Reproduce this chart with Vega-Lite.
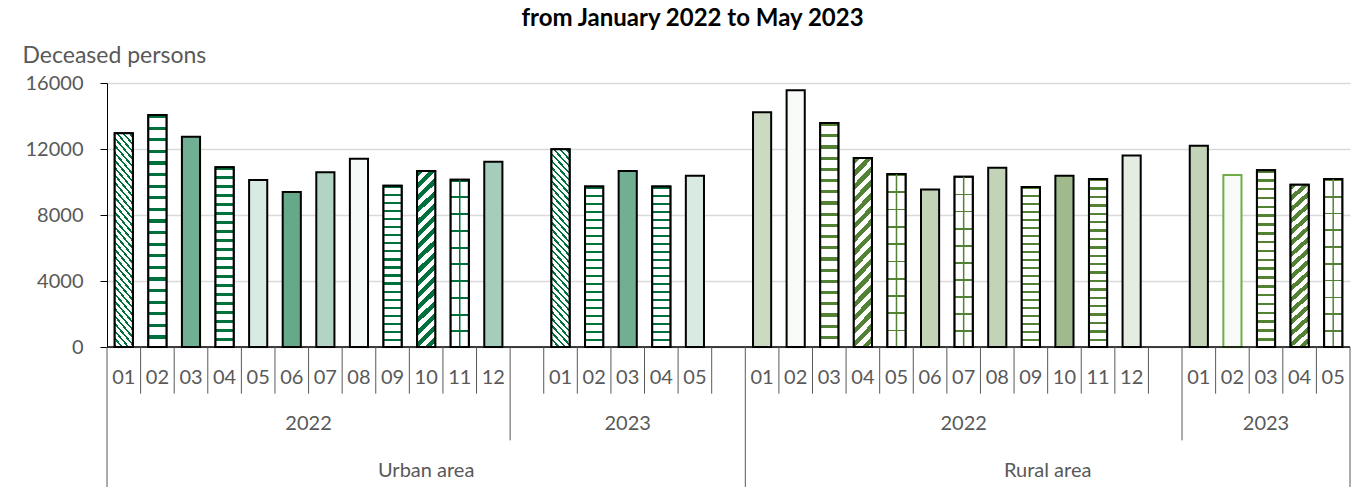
{
"$schema": "https://vega.github.io/schema/vega-lite/v6.json",
"width": 1243,
"height": 404,
"autosize": "none",
"padding": {"left": 107, "top": 83, "right": 10, "bottom": 13},
"background": "white",
"config": {"view": {"stroke": null}, "font": "Lato"},
"title": {"text": "from January 2022 to May 2023", "fontSize": 24, "fontWeight": "bold", "color": "#000000", "font": "Lato", "anchor": "middle", "frame": "group", "offset": 30, "baseline": "alphabetic", "dx": -36, "dy": 36},
"datasets": {
"deaths": [
{"area":"Urban area","year":"2022","month":"01","slot":"U22-01","deaths":12950},
{"area":"Urban area","year":"2022","month":"02","slot":"U22-02","deaths":14060},
{"area":"Urban area","year":"2022","month":"03","slot":"U22-03","deaths":12750},
{"area":"Urban area","year":"2022","month":"04","slot":"U22-04","deaths":10890},
{"area":"Urban area","year":"2022","month":"05","slot":"U22-05","deaths":10120},
{"area":"Urban area","year":"2022","month":"06","slot":"U22-06","deaths":9390},
{"area":"Urban area","year":"2022","month":"07","slot":"U22-07","deaths":10590},
{"area":"Urban area","year":"2022","month":"08","slot":"U22-08","deaths":11410},
{"area":"Urban area","year":"2022","month":"09","slot":"U22-09","deaths":9780},
{"area":"Urban area","year":"2022","month":"10","slot":"U22-10","deaths":10670},
{"area":"Urban area","year":"2022","month":"11","slot":"U22-11","deaths":10140},
{"area":"Urban area","year":"2022","month":"12","slot":"U22-12","deaths":11230},
{"area":"Urban area","year":"2023","month":"01","slot":"U23-01","deaths":11980},
{"area":"Urban area","year":"2023","month":"02","slot":"U23-02","deaths":9720},
{"area":"Urban area","year":"2023","month":"03","slot":"U23-03","deaths":10670},
{"area":"Urban area","year":"2023","month":"04","slot":"U23-04","deaths":9720},
{"area":"Urban area","year":"2023","month":"05","slot":"U23-05","deaths":10380},
{"area":"Rural area","year":"2022","month":"01","slot":"R22-01","deaths":14220},
{"area":"Rural area","year":"2022","month":"02","slot":"R22-02","deaths":15560},
{"area":"Rural area","year":"2022","month":"03","slot":"R22-03","deaths":13570},
{"area":"Rural area","year":"2022","month":"04","slot":"R22-04","deaths":11450},
{"area":"Rural area","year":"2022","month":"05","slot":"R22-05","deaths":10480},
{"area":"Rural area","year":"2022","month":"06","slot":"R22-06","deaths":9540},
{"area":"Rural area","year":"2022","month":"07","slot":"R22-07","deaths":10320},
{"area":"Rural area","year":"2022","month":"08","slot":"R22-08","deaths":10870},
{"area":"Rural area","year":"2022","month":"09","slot":"R22-09","deaths":9700},
{"area":"Rural area","year":"2022","month":"10","slot":"R22-10","deaths":10380},
{"area":"Rural area","year":"2022","month":"11","slot":"R22-11","deaths":10180},
{"area":"Rural area","year":"2022","month":"12","slot":"R22-12","deaths":11600},
{"area":"Rural area","year":"2023","month":"01","slot":"R23-01","deaths":12200},
{"area":"Rural area","year":"2023","month":"02","slot":"R23-02","deaths":10420},
{"area":"Rural area","year":"2023","month":"03","slot":"R23-03","deaths":10710},
{"area":"Rural area","year":"2023","month":"04","slot":"R23-04","deaths":9840},
{"area":"Rural area","year":"2023","month":"05","slot":"R23-05","deaths":10180}
],
"separators": [
{"slot":"U22-01","level":"area"},{"slot":"U22-02","level":"month"},{"slot":"U22-03","level":"month"},{"slot":"U22-04","level":"month"},{"slot":"U22-05","level":"month"},{"slot":"U22-06","level":"month"},{"slot":"U22-07","level":"month"},{"slot":"U22-08","level":"month"},{"slot":"U22-09","level":"month"},{"slot":"U22-10","level":"month"},{"slot":"U22-11","level":"month"},{"slot":"U22-12","level":"month"},
{"slot":"U-gap1","level":"year"},{"slot":"U23-01","level":"month"},{"slot":"U23-02","level":"month"},{"slot":"U23-03","level":"month"},{"slot":"U23-04","level":"month"},{"slot":"U23-05","level":"month"},{"slot":"U-gap2","level":"month"},
{"slot":"R22-01","level":"area"},{"slot":"R22-02","level":"month"},{"slot":"R22-03","level":"month"},{"slot":"R22-04","level":"month"},{"slot":"R22-05","level":"month"},{"slot":"R22-06","level":"month"},{"slot":"R22-07","level":"month"},{"slot":"R22-08","level":"month"},{"slot":"R22-09","level":"month"},{"slot":"R22-10","level":"month"},{"slot":"R22-11","level":"month"},{"slot":"R22-12","level":"month"},
{"slot":"R-gap1","level":"month"},{"slot":"R23-01","level":"year"},{"slot":"R23-02","level":"month"},{"slot":"R23-03","level":"month"},{"slot":"R23-04","level":"month"},{"slot":"R23-05","level":"month"}
]
},
"layer": [
{
"data": {"name": "deaths"},
"mark": {"type": "bar", "width": {"band": 0.54}, "strokeWidth": 2},
"encoding": {
"x": {"field": "slot", "type": "ordinal", "scale": {"type": "band", "domain": ["U22-01","U22-02","U22-03","U22-04","U22-05","U22-06","U22-07","U22-08","U22-09","U22-10","U22-11","U22-12","U-gap1","U23-01","U23-02","U23-03","U23-04","U23-05","U-gap2","R22-01","R22-02","R22-03","R22-04","R22-05","R22-06","R22-07","R22-08","R22-09","R22-10","R22-11","R22-12","R-gap1","R23-01","R23-02","R23-03","R23-04","R23-05"], "paddingInner": 0, "paddingOuter": 0}, "axis": null},
"y": {"field": "deaths", "type": "quantitative", "scale": {"domain": [0, 16000], "range": [264, 0]},
"axis": {"values": [0, 4000, 8000, 12000, 16000], "format": "d", "title": "Deceased persons", "titleAngle": 0, "titleAlign": "left", "titleBaseline": "alphabetic", "titleX": -85, "titleY": -21, "titleFontSize": 23, "titleFontWeight": "normal", "titleColor": "#595959", "titleFont": "Lato", "labelFont": "Lato", "labelFontSize": 20, "labelColor": "#595959", "labelPadding": 17, "tickColor": "#000000", "tickSize": 7, "tickWidth": 1, "domainColor": "#000000", "domainWidth": 1, "grid": true, "gridColor": "#d9d9d9", "gridWidth": 1.5}},
"fill": {"field": "slot", "type": "nominal", "legend": null, "scale": {
"domain": ["U22-01","U22-02","U22-03","U22-04","U22-05","U22-06","U22-07","U22-08","U22-09","U22-10","U22-11","U22-12","U23-01","U23-02","U23-03","U23-04","U23-05","R22-01","R22-02","R22-03","R22-04","R22-05","R22-06","R22-07","R22-08","R22-09","R22-10","R22-11","R22-12","R23-01","R23-02","R23-03","R23-04","R23-05"],
"range": ["#ffffff","#ffffff","#70AF92","#ffffff","#D9EAE2","#66A98A","#B3D4C5","#F5F9F7","#ffffff","#ffffff","#ffffff","#A6CDBB","#ffffff","#ffffff","#70AF92","#ffffff","#D9EAE2","#CCDAC2","#F8FAF7","#ffffff","#ffffff","#ffffff","#C3D3B8","#ffffff","#C3D3B8","#ffffff","#A0BA8E","#ffffff","#E5ECE1","#C3D3B8","#F8FAF7","#ffffff","#ffffff","#ffffff"]}},
"stroke": {"condition": {"test": "datum.slot === 'R23-02'", "value": "#70AD47"}, "value": "#000000"}
}
},
{
"data": {"name": "deaths"},
"transform": [{"filter": {"field": "slot", "oneOf": ["U22-02","U22-04","U22-09","U23-02","U23-04"]}}],
"mark": {"type": "bar", "width": {"band": 0.54}, "stroke": "#000000", "strokeWidth": 2,
"fill": {"gradient": "linear", "x1": 0, "y1": 0, "x2": 0, "y2": 1, "stops": [{"offset":0,"color":"#00703C"},{"offset":0.014,"color":"#00703C"},{"offset":0.014,"color":"#ffffff"},{"offset":0.05,"color":"#ffffff"},{"offset":0.05,"color":"#00703C"},{"offset":0.064,"color":"#00703C"},{"offset":0.064,"color":"#ffffff"},{"offset":0.1,"color":"#ffffff"},{"offset":0.1,"color":"#00703C"},{"offset":0.114,"color":"#00703C"},{"offset":0.114,"color":"#ffffff"},{"offset":0.15,"color":"#ffffff"},{"offset":0.15,"color":"#00703C"},{"offset":0.164,"color":"#00703C"},{"offset":0.164,"color":"#ffffff"},{"offset":0.2,"color":"#ffffff"},{"offset":0.2,"color":"#00703C"},{"offset":0.214,"color":"#00703C"},{"offset":0.214,"color":"#ffffff"},{"offset":0.25,"color":"#ffffff"},{"offset":0.25,"color":"#00703C"},{"offset":0.264,"color":"#00703C"},{"offset":0.264,"color":"#ffffff"},{"offset":0.3,"color":"#ffffff"},{"offset":0.3,"color":"#00703C"},{"offset":0.314,"color":"#00703C"},{"offset":0.314,"color":"#ffffff"},{"offset":0.35,"color":"#ffffff"},{"offset":0.35,"color":"#00703C"},{"offset":0.364,"color":"#00703C"},{"offset":0.364,"color":"#ffffff"},{"offset":0.4,"color":"#ffffff"},{"offset":0.4,"color":"#00703C"},{"offset":0.414,"color":"#00703C"},{"offset":0.414,"color":"#ffffff"},{"offset":0.45,"color":"#ffffff"},{"offset":0.45,"color":"#00703C"},{"offset":0.464,"color":"#00703C"},{"offset":0.464,"color":"#ffffff"},{"offset":0.5,"color":"#ffffff"},{"offset":0.5,"color":"#00703C"},{"offset":0.514,"color":"#00703C"},{"offset":0.514,"color":"#ffffff"},{"offset":0.55,"color":"#ffffff"},{"offset":0.55,"color":"#00703C"},{"offset":0.564,"color":"#00703C"},{"offset":0.564,"color":"#ffffff"},{"offset":0.6,"color":"#ffffff"},{"offset":0.6,"color":"#00703C"},{"offset":0.614,"color":"#00703C"},{"offset":0.614,"color":"#ffffff"},{"offset":0.65,"color":"#ffffff"},{"offset":0.65,"color":"#00703C"},{"offset":0.664,"color":"#00703C"},{"offset":0.664,"color":"#ffffff"},{"offset":0.7,"color":"#ffffff"},{"offset":0.7,"color":"#00703C"},{"offset":0.714,"color":"#00703C"},{"offset":0.714,"color":"#ffffff"},{"offset":0.75,"color":"#ffffff"},{"offset":0.75,"color":"#00703C"},{"offset":0.764,"color":"#00703C"},{"offset":0.764,"color":"#ffffff"},{"offset":0.8,"color":"#ffffff"},{"offset":0.8,"color":"#00703C"},{"offset":0.814,"color":"#00703C"},{"offset":0.814,"color":"#ffffff"},{"offset":0.85,"color":"#ffffff"},{"offset":0.85,"color":"#00703C"},{"offset":0.864,"color":"#00703C"},{"offset":0.864,"color":"#ffffff"},{"offset":0.9,"color":"#ffffff"},{"offset":0.9,"color":"#00703C"},{"offset":0.914,"color":"#00703C"},{"offset":0.914,"color":"#ffffff"},{"offset":0.95,"color":"#ffffff"},{"offset":0.95,"color":"#00703C"},{"offset":0.964,"color":"#00703C"},{"offset":0.964,"color":"#ffffff"},{"offset":1,"color":"#ffffff"}]}},
"encoding": {
"x": {"field": "slot", "type": "ordinal", "scale": {"type": "band", "domain": ["U22-01","U22-02","U22-03","U22-04","U22-05","U22-06","U22-07","U22-08","U22-09","U22-10","U22-11","U22-12","U-gap1","U23-01","U23-02","U23-03","U23-04","U23-05","U-gap2","R22-01","R22-02","R22-03","R22-04","R22-05","R22-06","R22-07","R22-08","R22-09","R22-10","R22-11","R22-12","R-gap1","R23-01","R23-02","R23-03","R23-04","R23-05"], "paddingInner": 0, "paddingOuter": 0}, "axis": null},
"y": {"field": "deaths", "type": "quantitative", "scale": {"domain": [0, 16000], "range": [264, 0]}, "axis": null}
}
},
{
"data": {"name": "deaths"},
"transform": [{"filter": {"field": "slot", "oneOf": ["R22-03","R22-09","R22-11","R23-03"]}}],
"mark": {"type": "bar", "width": {"band": 0.54}, "stroke": "#000000", "strokeWidth": 2,
"fill": {"gradient": "linear", "x1": 0, "y1": 0, "x2": 0, "y2": 1, "stops": [{"offset":0,"color":"#548235"},{"offset":0.014,"color":"#548235"},{"offset":0.014,"color":"#ffffff"},{"offset":0.05,"color":"#ffffff"},{"offset":0.05,"color":"#548235"},{"offset":0.064,"color":"#548235"},{"offset":0.064,"color":"#ffffff"},{"offset":0.1,"color":"#ffffff"},{"offset":0.1,"color":"#548235"},{"offset":0.114,"color":"#548235"},{"offset":0.114,"color":"#ffffff"},{"offset":0.15,"color":"#ffffff"},{"offset":0.15,"color":"#548235"},{"offset":0.164,"color":"#548235"},{"offset":0.164,"color":"#ffffff"},{"offset":0.2,"color":"#ffffff"},{"offset":0.2,"color":"#548235"},{"offset":0.214,"color":"#548235"},{"offset":0.214,"color":"#ffffff"},{"offset":0.25,"color":"#ffffff"},{"offset":0.25,"color":"#548235"},{"offset":0.264,"color":"#548235"},{"offset":0.264,"color":"#ffffff"},{"offset":0.3,"color":"#ffffff"},{"offset":0.3,"color":"#548235"},{"offset":0.314,"color":"#548235"},{"offset":0.314,"color":"#ffffff"},{"offset":0.35,"color":"#ffffff"},{"offset":0.35,"color":"#548235"},{"offset":0.364,"color":"#548235"},{"offset":0.364,"color":"#ffffff"},{"offset":0.4,"color":"#ffffff"},{"offset":0.4,"color":"#548235"},{"offset":0.414,"color":"#548235"},{"offset":0.414,"color":"#ffffff"},{"offset":0.45,"color":"#ffffff"},{"offset":0.45,"color":"#548235"},{"offset":0.464,"color":"#548235"},{"offset":0.464,"color":"#ffffff"},{"offset":0.5,"color":"#ffffff"},{"offset":0.5,"color":"#548235"},{"offset":0.514,"color":"#548235"},{"offset":0.514,"color":"#ffffff"},{"offset":0.55,"color":"#ffffff"},{"offset":0.55,"color":"#548235"},{"offset":0.564,"color":"#548235"},{"offset":0.564,"color":"#ffffff"},{"offset":0.6,"color":"#ffffff"},{"offset":0.6,"color":"#548235"},{"offset":0.614,"color":"#548235"},{"offset":0.614,"color":"#ffffff"},{"offset":0.65,"color":"#ffffff"},{"offset":0.65,"color":"#548235"},{"offset":0.664,"color":"#548235"},{"offset":0.664,"color":"#ffffff"},{"offset":0.7,"color":"#ffffff"},{"offset":0.7,"color":"#548235"},{"offset":0.714,"color":"#548235"},{"offset":0.714,"color":"#ffffff"},{"offset":0.75,"color":"#ffffff"},{"offset":0.75,"color":"#548235"},{"offset":0.764,"color":"#548235"},{"offset":0.764,"color":"#ffffff"},{"offset":0.8,"color":"#ffffff"},{"offset":0.8,"color":"#548235"},{"offset":0.814,"color":"#548235"},{"offset":0.814,"color":"#ffffff"},{"offset":0.85,"color":"#ffffff"},{"offset":0.85,"color":"#548235"},{"offset":0.864,"color":"#548235"},{"offset":0.864,"color":"#ffffff"},{"offset":0.9,"color":"#ffffff"},{"offset":0.9,"color":"#548235"},{"offset":0.914,"color":"#548235"},{"offset":0.914,"color":"#ffffff"},{"offset":0.95,"color":"#ffffff"},{"offset":0.95,"color":"#548235"},{"offset":0.964,"color":"#548235"},{"offset":0.964,"color":"#ffffff"},{"offset":1,"color":"#ffffff"}]}},
"encoding": {
"x": {"field": "slot", "type": "ordinal", "scale": {"type": "band", "domain": ["U22-01","U22-02","U22-03","U22-04","U22-05","U22-06","U22-07","U22-08","U22-09","U22-10","U22-11","U22-12","U-gap1","U23-01","U23-02","U23-03","U23-04","U23-05","U-gap2","R22-01","R22-02","R22-03","R22-04","R22-05","R22-06","R22-07","R22-08","R22-09","R22-10","R22-11","R22-12","R-gap1","R23-01","R23-02","R23-03","R23-04","R23-05"], "paddingInner": 0, "paddingOuter": 0}, "axis": null},
"y": {"field": "deaths", "type": "quantitative", "scale": {"domain": [0, 16000], "range": [264, 0]}, "axis": null}
}
},
{
"data": {"name": "deaths"},
"transform": [{"filter": {"field": "slot", "oneOf": ["U22-11"]}}],
"mark": {"type": "bar", "width": {"band": 0.54}, "stroke": "#000000", "strokeWidth": 2,
"fill": {"gradient": "linear", "x1": 0, "y1": 0, "x2": 0, "y2": 1, "stops": [{"offset":0,"color":"#00703C"},{"offset":0.012,"color":"#00703C"},{"offset":0.012,"color":"#ffffff"},{"offset":0.1,"color":"#ffffff"},{"offset":0.1,"color":"#00703C"},{"offset":0.112,"color":"#00703C"},{"offset":0.112,"color":"#ffffff"},{"offset":0.2,"color":"#ffffff"},{"offset":0.2,"color":"#00703C"},{"offset":0.212,"color":"#00703C"},{"offset":0.212,"color":"#ffffff"},{"offset":0.3,"color":"#ffffff"},{"offset":0.3,"color":"#00703C"},{"offset":0.312,"color":"#00703C"},{"offset":0.312,"color":"#ffffff"},{"offset":0.4,"color":"#ffffff"},{"offset":0.4,"color":"#00703C"},{"offset":0.412,"color":"#00703C"},{"offset":0.412,"color":"#ffffff"},{"offset":0.5,"color":"#ffffff"},{"offset":0.5,"color":"#00703C"},{"offset":0.512,"color":"#00703C"},{"offset":0.512,"color":"#ffffff"},{"offset":0.6,"color":"#ffffff"},{"offset":0.6,"color":"#00703C"},{"offset":0.612,"color":"#00703C"},{"offset":0.612,"color":"#ffffff"},{"offset":0.7,"color":"#ffffff"},{"offset":0.7,"color":"#00703C"},{"offset":0.712,"color":"#00703C"},{"offset":0.712,"color":"#ffffff"},{"offset":0.8,"color":"#ffffff"},{"offset":0.8,"color":"#00703C"},{"offset":0.812,"color":"#00703C"},{"offset":0.812,"color":"#ffffff"},{"offset":0.9,"color":"#ffffff"},{"offset":0.9,"color":"#00703C"},{"offset":0.912,"color":"#00703C"},{"offset":0.912,"color":"#ffffff"},{"offset":1,"color":"#ffffff"}]}},
"encoding": {
"x": {"field": "slot", "type": "ordinal", "scale": {"type": "band", "domain": ["U22-01","U22-02","U22-03","U22-04","U22-05","U22-06","U22-07","U22-08","U22-09","U22-10","U22-11","U22-12","U-gap1","U23-01","U23-02","U23-03","U23-04","U23-05","U-gap2","R22-01","R22-02","R22-03","R22-04","R22-05","R22-06","R22-07","R22-08","R22-09","R22-10","R22-11","R22-12","R-gap1","R23-01","R23-02","R23-03","R23-04","R23-05"], "paddingInner": 0, "paddingOuter": 0}, "axis": null},
"y": {"field": "deaths", "type": "quantitative", "scale": {"domain": [0, 16000], "range": [264, 0]}, "axis": null}
}
},
{
"data": {"name": "deaths"},
"transform": [{"filter": {"field": "slot", "oneOf": ["R22-05","R22-07","R23-05"]}}],
"mark": {"type": "bar", "width": {"band": 0.54}, "stroke": "#000000", "strokeWidth": 2,
"fill": {"gradient": "linear", "x1": 0, "y1": 0, "x2": 0, "y2": 1, "stops": [{"offset":0,"color":"#548235"},{"offset":0.01,"color":"#548235"},{"offset":0.01,"color":"#ffffff"},{"offset":0.1,"color":"#ffffff"},{"offset":0.1,"color":"#548235"},{"offset":0.11,"color":"#548235"},{"offset":0.11,"color":"#ffffff"},{"offset":0.2,"color":"#ffffff"},{"offset":0.2,"color":"#548235"},{"offset":0.21,"color":"#548235"},{"offset":0.21,"color":"#ffffff"},{"offset":0.3,"color":"#ffffff"},{"offset":0.3,"color":"#548235"},{"offset":0.31,"color":"#548235"},{"offset":0.31,"color":"#ffffff"},{"offset":0.4,"color":"#ffffff"},{"offset":0.4,"color":"#548235"},{"offset":0.41,"color":"#548235"},{"offset":0.41,"color":"#ffffff"},{"offset":0.5,"color":"#ffffff"},{"offset":0.5,"color":"#548235"},{"offset":0.51,"color":"#548235"},{"offset":0.51,"color":"#ffffff"},{"offset":0.6,"color":"#ffffff"},{"offset":0.6,"color":"#548235"},{"offset":0.61,"color":"#548235"},{"offset":0.61,"color":"#ffffff"},{"offset":0.7,"color":"#ffffff"},{"offset":0.7,"color":"#548235"},{"offset":0.71,"color":"#548235"},{"offset":0.71,"color":"#ffffff"},{"offset":0.8,"color":"#ffffff"},{"offset":0.8,"color":"#548235"},{"offset":0.81,"color":"#548235"},{"offset":0.81,"color":"#ffffff"},{"offset":0.9,"color":"#ffffff"},{"offset":0.9,"color":"#548235"},{"offset":0.91,"color":"#548235"},{"offset":0.91,"color":"#ffffff"},{"offset":1,"color":"#ffffff"}]}},
"encoding": {
"x": {"field": "slot", "type": "ordinal", "scale": {"type": "band", "domain": ["U22-01","U22-02","U22-03","U22-04","U22-05","U22-06","U22-07","U22-08","U22-09","U22-10","U22-11","U22-12","U-gap1","U23-01","U23-02","U23-03","U23-04","U23-05","U-gap2","R22-01","R22-02","R22-03","R22-04","R22-05","R22-06","R22-07","R22-08","R22-09","R22-10","R22-11","R22-12","R-gap1","R23-01","R23-02","R23-03","R23-04","R23-05"], "paddingInner": 0, "paddingOuter": 0}, "axis": null},
"y": {"field": "deaths", "type": "quantitative", "scale": {"domain": [0, 16000], "range": [264, 0]}, "axis": null}
}
},
{
"data": {"name": "deaths"},
"transform": [{"filter": {"field": "slot", "oneOf": ["U22-10"]}}],
"mark": {"type": "bar", "width": {"band": 0.54}, "stroke": "#000000", "strokeWidth": 2,
"fill": {"gradient": "linear", "x1": 0, "y1": 0, "x2": 0.11, "y2": 1.1, "stops": [{"offset":0,"color":"#00703C"},{"offset":0.03125,"color":"#00703C"},{"offset":0.03125,"color":"#ffffff"},{"offset":0.0625,"color":"#ffffff"},{"offset":0.0625,"color":"#00703C"},{"offset":0.09375,"color":"#00703C"},{"offset":0.09375,"color":"#ffffff"},{"offset":0.125,"color":"#ffffff"},{"offset":0.125,"color":"#00703C"},{"offset":0.15625,"color":"#00703C"},{"offset":0.15625,"color":"#ffffff"},{"offset":0.1875,"color":"#ffffff"},{"offset":0.1875,"color":"#00703C"},{"offset":0.21875,"color":"#00703C"},{"offset":0.21875,"color":"#ffffff"},{"offset":0.25,"color":"#ffffff"},{"offset":0.25,"color":"#00703C"},{"offset":0.28125,"color":"#00703C"},{"offset":0.28125,"color":"#ffffff"},{"offset":0.3125,"color":"#ffffff"},{"offset":0.3125,"color":"#00703C"},{"offset":0.34375,"color":"#00703C"},{"offset":0.34375,"color":"#ffffff"},{"offset":0.375,"color":"#ffffff"},{"offset":0.375,"color":"#00703C"},{"offset":0.40625,"color":"#00703C"},{"offset":0.40625,"color":"#ffffff"},{"offset":0.4375,"color":"#ffffff"},{"offset":0.4375,"color":"#00703C"},{"offset":0.46875,"color":"#00703C"},{"offset":0.46875,"color":"#ffffff"},{"offset":0.5,"color":"#ffffff"},{"offset":0.5,"color":"#00703C"},{"offset":0.53125,"color":"#00703C"},{"offset":0.53125,"color":"#ffffff"},{"offset":0.5625,"color":"#ffffff"},{"offset":0.5625,"color":"#00703C"},{"offset":0.59375,"color":"#00703C"},{"offset":0.59375,"color":"#ffffff"},{"offset":0.625,"color":"#ffffff"},{"offset":0.625,"color":"#00703C"},{"offset":0.65625,"color":"#00703C"},{"offset":0.65625,"color":"#ffffff"},{"offset":0.6875,"color":"#ffffff"},{"offset":0.6875,"color":"#00703C"},{"offset":0.71875,"color":"#00703C"},{"offset":0.71875,"color":"#ffffff"},{"offset":0.75,"color":"#ffffff"},{"offset":0.75,"color":"#00703C"},{"offset":0.78125,"color":"#00703C"},{"offset":0.78125,"color":"#ffffff"},{"offset":0.8125,"color":"#ffffff"},{"offset":0.8125,"color":"#00703C"},{"offset":0.84375,"color":"#00703C"},{"offset":0.84375,"color":"#ffffff"},{"offset":0.875,"color":"#ffffff"},{"offset":0.875,"color":"#00703C"},{"offset":0.90625,"color":"#00703C"},{"offset":0.90625,"color":"#ffffff"},{"offset":0.9375,"color":"#ffffff"},{"offset":0.9375,"color":"#00703C"},{"offset":0.96875,"color":"#00703C"},{"offset":0.96875,"color":"#ffffff"},{"offset":1,"color":"#ffffff"}]}},
"encoding": {
"x": {"field": "slot", "type": "ordinal", "scale": {"type": "band", "domain": ["U22-01","U22-02","U22-03","U22-04","U22-05","U22-06","U22-07","U22-08","U22-09","U22-10","U22-11","U22-12","U-gap1","U23-01","U23-02","U23-03","U23-04","U23-05","U-gap2","R22-01","R22-02","R22-03","R22-04","R22-05","R22-06","R22-07","R22-08","R22-09","R22-10","R22-11","R22-12","R-gap1","R23-01","R23-02","R23-03","R23-04","R23-05"], "paddingInner": 0, "paddingOuter": 0}, "axis": null},
"y": {"field": "deaths", "type": "quantitative", "scale": {"domain": [0, 16000], "range": [264, 0]}, "axis": null}
}
},
{
"data": {"name": "deaths"},
"transform": [{"filter": {"field": "slot", "oneOf": ["R22-04","R23-04"]}}],
"mark": {"type": "bar", "width": {"band": 0.54}, "stroke": "#000000", "strokeWidth": 2,
"fill": {"gradient": "linear", "x1": 0, "y1": 0, "x2": 0.11, "y2": 1.1, "stops": [{"offset":0,"color":"#548235"},{"offset":0.03125,"color":"#548235"},{"offset":0.03125,"color":"#ffffff"},{"offset":0.0625,"color":"#ffffff"},{"offset":0.0625,"color":"#548235"},{"offset":0.09375,"color":"#548235"},{"offset":0.09375,"color":"#ffffff"},{"offset":0.125,"color":"#ffffff"},{"offset":0.125,"color":"#548235"},{"offset":0.15625,"color":"#548235"},{"offset":0.15625,"color":"#ffffff"},{"offset":0.1875,"color":"#ffffff"},{"offset":0.1875,"color":"#548235"},{"offset":0.21875,"color":"#548235"},{"offset":0.21875,"color":"#ffffff"},{"offset":0.25,"color":"#ffffff"},{"offset":0.25,"color":"#548235"},{"offset":0.28125,"color":"#548235"},{"offset":0.28125,"color":"#ffffff"},{"offset":0.3125,"color":"#ffffff"},{"offset":0.3125,"color":"#548235"},{"offset":0.34375,"color":"#548235"},{"offset":0.34375,"color":"#ffffff"},{"offset":0.375,"color":"#ffffff"},{"offset":0.375,"color":"#548235"},{"offset":0.40625,"color":"#548235"},{"offset":0.40625,"color":"#ffffff"},{"offset":0.4375,"color":"#ffffff"},{"offset":0.4375,"color":"#548235"},{"offset":0.46875,"color":"#548235"},{"offset":0.46875,"color":"#ffffff"},{"offset":0.5,"color":"#ffffff"},{"offset":0.5,"color":"#548235"},{"offset":0.53125,"color":"#548235"},{"offset":0.53125,"color":"#ffffff"},{"offset":0.5625,"color":"#ffffff"},{"offset":0.5625,"color":"#548235"},{"offset":0.59375,"color":"#548235"},{"offset":0.59375,"color":"#ffffff"},{"offset":0.625,"color":"#ffffff"},{"offset":0.625,"color":"#548235"},{"offset":0.65625,"color":"#548235"},{"offset":0.65625,"color":"#ffffff"},{"offset":0.6875,"color":"#ffffff"},{"offset":0.6875,"color":"#548235"},{"offset":0.71875,"color":"#548235"},{"offset":0.71875,"color":"#ffffff"},{"offset":0.75,"color":"#ffffff"},{"offset":0.75,"color":"#548235"},{"offset":0.78125,"color":"#548235"},{"offset":0.78125,"color":"#ffffff"},{"offset":0.8125,"color":"#ffffff"},{"offset":0.8125,"color":"#548235"},{"offset":0.84375,"color":"#548235"},{"offset":0.84375,"color":"#ffffff"},{"offset":0.875,"color":"#ffffff"},{"offset":0.875,"color":"#548235"},{"offset":0.90625,"color":"#548235"},{"offset":0.90625,"color":"#ffffff"},{"offset":0.9375,"color":"#ffffff"},{"offset":0.9375,"color":"#548235"},{"offset":0.96875,"color":"#548235"},{"offset":0.96875,"color":"#ffffff"},{"offset":1,"color":"#ffffff"}]}},
"encoding": {
"x": {"field": "slot", "type": "ordinal", "scale": {"type": "band", "domain": ["U22-01","U22-02","U22-03","U22-04","U22-05","U22-06","U22-07","U22-08","U22-09","U22-10","U22-11","U22-12","U-gap1","U23-01","U23-02","U23-03","U23-04","U23-05","U-gap2","R22-01","R22-02","R22-03","R22-04","R22-05","R22-06","R22-07","R22-08","R22-09","R22-10","R22-11","R22-12","R-gap1","R23-01","R23-02","R23-03","R23-04","R23-05"], "paddingInner": 0, "paddingOuter": 0}, "axis": null},
"y": {"field": "deaths", "type": "quantitative", "scale": {"domain": [0, 16000], "range": [264, 0]}, "axis": null}
}
},
{
"data": {"name": "deaths"},
"transform": [{"filter": {"field": "slot", "oneOf": ["U22-01","U23-01"]}}],
"mark": {"type": "bar", "width": {"band": 0.54}, "stroke": "#000000", "strokeWidth": 2,
"fill": {"gradient": "linear", "x1": 0, "y1": 1, "x2": 0.11, "y2": -0.1, "stops": [{"offset":0,"color":"#00703C"},{"offset":0.011,"color":"#00703C"},{"offset":0.011,"color":"#ffffff"},{"offset":0.03125,"color":"#ffffff"},{"offset":0.03125,"color":"#00703C"},{"offset":0.04225,"color":"#00703C"},{"offset":0.04225,"color":"#ffffff"},{"offset":0.0625,"color":"#ffffff"},{"offset":0.0625,"color":"#00703C"},{"offset":0.0735,"color":"#00703C"},{"offset":0.0735,"color":"#ffffff"},{"offset":0.09375,"color":"#ffffff"},{"offset":0.09375,"color":"#00703C"},{"offset":0.10475,"color":"#00703C"},{"offset":0.10475,"color":"#ffffff"},{"offset":0.125,"color":"#ffffff"},{"offset":0.125,"color":"#00703C"},{"offset":0.136,"color":"#00703C"},{"offset":0.136,"color":"#ffffff"},{"offset":0.15625,"color":"#ffffff"},{"offset":0.15625,"color":"#00703C"},{"offset":0.16725,"color":"#00703C"},{"offset":0.16725,"color":"#ffffff"},{"offset":0.1875,"color":"#ffffff"},{"offset":0.1875,"color":"#00703C"},{"offset":0.1985,"color":"#00703C"},{"offset":0.1985,"color":"#ffffff"},{"offset":0.21875,"color":"#ffffff"},{"offset":0.21875,"color":"#00703C"},{"offset":0.22975,"color":"#00703C"},{"offset":0.22975,"color":"#ffffff"},{"offset":0.25,"color":"#ffffff"},{"offset":0.25,"color":"#00703C"},{"offset":0.261,"color":"#00703C"},{"offset":0.261,"color":"#ffffff"},{"offset":0.28125,"color":"#ffffff"},{"offset":0.28125,"color":"#00703C"},{"offset":0.29225,"color":"#00703C"},{"offset":0.29225,"color":"#ffffff"},{"offset":0.3125,"color":"#ffffff"},{"offset":0.3125,"color":"#00703C"},{"offset":0.3235,"color":"#00703C"},{"offset":0.3235,"color":"#ffffff"},{"offset":0.34375,"color":"#ffffff"},{"offset":0.34375,"color":"#00703C"},{"offset":0.35475,"color":"#00703C"},{"offset":0.35475,"color":"#ffffff"},{"offset":0.375,"color":"#ffffff"},{"offset":0.375,"color":"#00703C"},{"offset":0.386,"color":"#00703C"},{"offset":0.386,"color":"#ffffff"},{"offset":0.40625,"color":"#ffffff"},{"offset":0.40625,"color":"#00703C"},{"offset":0.41725,"color":"#00703C"},{"offset":0.41725,"color":"#ffffff"},{"offset":0.4375,"color":"#ffffff"},{"offset":0.4375,"color":"#00703C"},{"offset":0.4485,"color":"#00703C"},{"offset":0.4485,"color":"#ffffff"},{"offset":0.46875,"color":"#ffffff"},{"offset":0.46875,"color":"#00703C"},{"offset":0.47975,"color":"#00703C"},{"offset":0.47975,"color":"#ffffff"},{"offset":0.5,"color":"#ffffff"},{"offset":0.5,"color":"#00703C"},{"offset":0.511,"color":"#00703C"},{"offset":0.511,"color":"#ffffff"},{"offset":0.53125,"color":"#ffffff"},{"offset":0.53125,"color":"#00703C"},{"offset":0.54225,"color":"#00703C"},{"offset":0.54225,"color":"#ffffff"},{"offset":0.5625,"color":"#ffffff"},{"offset":0.5625,"color":"#00703C"},{"offset":0.5735,"color":"#00703C"},{"offset":0.5735,"color":"#ffffff"},{"offset":0.59375,"color":"#ffffff"},{"offset":0.59375,"color":"#00703C"},{"offset":0.60475,"color":"#00703C"},{"offset":0.60475,"color":"#ffffff"},{"offset":0.625,"color":"#ffffff"},{"offset":0.625,"color":"#00703C"},{"offset":0.636,"color":"#00703C"},{"offset":0.636,"color":"#ffffff"},{"offset":0.65625,"color":"#ffffff"},{"offset":0.65625,"color":"#00703C"},{"offset":0.66725,"color":"#00703C"},{"offset":0.66725,"color":"#ffffff"},{"offset":0.6875,"color":"#ffffff"},{"offset":0.6875,"color":"#00703C"},{"offset":0.6985,"color":"#00703C"},{"offset":0.6985,"color":"#ffffff"},{"offset":0.71875,"color":"#ffffff"},{"offset":0.71875,"color":"#00703C"},{"offset":0.72975,"color":"#00703C"},{"offset":0.72975,"color":"#ffffff"},{"offset":0.75,"color":"#ffffff"},{"offset":0.75,"color":"#00703C"},{"offset":0.761,"color":"#00703C"},{"offset":0.761,"color":"#ffffff"},{"offset":0.78125,"color":"#ffffff"},{"offset":0.78125,"color":"#00703C"},{"offset":0.79225,"color":"#00703C"},{"offset":0.79225,"color":"#ffffff"},{"offset":0.8125,"color":"#ffffff"},{"offset":0.8125,"color":"#00703C"},{"offset":0.8235,"color":"#00703C"},{"offset":0.8235,"color":"#ffffff"},{"offset":0.84375,"color":"#ffffff"},{"offset":0.84375,"color":"#00703C"},{"offset":0.85475,"color":"#00703C"},{"offset":0.85475,"color":"#ffffff"},{"offset":0.875,"color":"#ffffff"},{"offset":0.875,"color":"#00703C"},{"offset":0.886,"color":"#00703C"},{"offset":0.886,"color":"#ffffff"},{"offset":0.90625,"color":"#ffffff"},{"offset":0.90625,"color":"#00703C"},{"offset":0.91725,"color":"#00703C"},{"offset":0.91725,"color":"#ffffff"},{"offset":0.9375,"color":"#ffffff"},{"offset":0.9375,"color":"#00703C"},{"offset":0.9485,"color":"#00703C"},{"offset":0.9485,"color":"#ffffff"},{"offset":0.96875,"color":"#ffffff"},{"offset":0.96875,"color":"#00703C"},{"offset":0.97975,"color":"#00703C"},{"offset":0.97975,"color":"#ffffff"},{"offset":1,"color":"#ffffff"}]}},
"encoding": {
"x": {"field": "slot", "type": "ordinal", "scale": {"type": "band", "domain": ["U22-01","U22-02","U22-03","U22-04","U22-05","U22-06","U22-07","U22-08","U22-09","U22-10","U22-11","U22-12","U-gap1","U23-01","U23-02","U23-03","U23-04","U23-05","U-gap2","R22-01","R22-02","R22-03","R22-04","R22-05","R22-06","R22-07","R22-08","R22-09","R22-10","R22-11","R22-12","R-gap1","R23-01","R23-02","R23-03","R23-04","R23-05"], "paddingInner": 0, "paddingOuter": 0}, "axis": null},
"y": {"field": "deaths", "type": "quantitative", "scale": {"domain": [0, 16000], "range": [264, 0]}, "axis": null}
}
},
{
"data": {"name": "deaths"},
"transform": [{"filter": {"field": "slot", "oneOf": ["U22-11","R22-05","R22-07","R23-05"]}}],
"mark": {"type": "rule", "strokeWidth": 1.5},
"encoding": {
"x": {"field": "slot", "type": "ordinal", "scale": {"type": "band", "domain": ["U22-01","U22-02","U22-03","U22-04","U22-05","U22-06","U22-07","U22-08","U22-09","U22-10","U22-11","U22-12","U-gap1","U23-01","U23-02","U23-03","U23-04","U23-05","U-gap2","R22-01","R22-02","R22-03","R22-04","R22-05","R22-06","R22-07","R22-08","R22-09","R22-10","R22-11","R22-12","R-gap1","R23-01","R23-02","R23-03","R23-04","R23-05"], "paddingInner": 0, "paddingOuter": 0}, "axis": null},
"y": {"field": "deaths", "type": "quantitative", "scale": {"domain": [0, 16000], "range": [264, 0]}, "axis": null},
"y2": {"datum": 0},
"stroke": {"condition": {"test": "datum.area === 'Urban area'", "value": "#00703C"}, "value": "#548235"}
}
},
{
"data": {"values": [{"baseline": 0}]},
"mark": {"type": "rule", "color": "#000000", "strokeWidth": 1.5},
"encoding": {
"y": {"field": "baseline", "type": "quantitative", "scale": {"domain": [0, 16000], "range": [264, 0]}, "axis": null}
}
},
{
"data": {"name": "separators"},
"mark": {"type": "rule", "color": "#595959", "strokeWidth": 1},
"encoding": {
"x": {"field": "slot", "type": "ordinal", "bandPosition": 0, "scale": {"type": "band", "domain": ["U22-01","U22-02","U22-03","U22-04","U22-05","U22-06","U22-07","U22-08","U22-09","U22-10","U22-11","U22-12","U-gap1","U23-01","U23-02","U23-03","U23-04","U23-05","U-gap2","R22-01","R22-02","R22-03","R22-04","R22-05","R22-06","R22-07","R22-08","R22-09","R22-10","R22-11","R22-12","R-gap1","R23-01","R23-02","R23-03","R23-04","R23-05"], "paddingInner": 0, "paddingOuter": 0}, "axis": null},
"y": {"field": "level", "type": "ordinal", "scale": {"type": "point", "domain": ["axis", "month", "year", "area"], "range": [264, 404], "padding": 0}, "axis": null},
"y2": {"datum": "axis"}
}
},
{
"data": {"values": [{"slot": "R23-05", "level": "area"}]},
"mark": {"type": "rule", "color": "#595959", "strokeWidth": 1},
"encoding": {
"x": {"field": "slot", "type": "ordinal", "bandPosition": 1, "scale": {"type": "band", "domain": ["U22-01","U22-02","U22-03","U22-04","U22-05","U22-06","U22-07","U22-08","U22-09","U22-10","U22-11","U22-12","U-gap1","U23-01","U23-02","U23-03","U23-04","U23-05","U-gap2","R22-01","R22-02","R22-03","R22-04","R22-05","R22-06","R22-07","R22-08","R22-09","R22-10","R22-11","R22-12","R-gap1","R23-01","R23-02","R23-03","R23-04","R23-05"], "paddingInner": 0, "paddingOuter": 0}, "axis": null},
"y": {"field": "level", "type": "ordinal", "scale": {"type": "point", "domain": ["axis", "month", "year", "area"], "range": [264, 404], "padding": 0}, "axis": null},
"y2": {"datum": "axis"}
}
},
{
"data": {"name": "deaths"},
"mark": {"type": "text", "fontSize": 20, "color": "#595959", "font": "Lato", "dy": 8},
"encoding": {
"x": {"field": "slot", "type": "ordinal", "scale": {"type": "band", "domain": ["U22-01","U22-02","U22-03","U22-04","U22-05","U22-06","U22-07","U22-08","U22-09","U22-10","U22-11","U22-12","U-gap1","U23-01","U23-02","U23-03","U23-04","U23-05","U-gap2","R22-01","R22-02","R22-03","R22-04","R22-05","R22-06","R22-07","R22-08","R22-09","R22-10","R22-11","R22-12","R-gap1","R23-01","R23-02","R23-03","R23-04","R23-05"], "paddingInner": 0, "paddingOuter": 0}, "axis": null},
"y": {"datum": "month", "type": "ordinal", "scale": {"type": "band", "domain": ["month", "year", "area"], "range": [264, 404], "paddingInner": 0, "paddingOuter": 0}, "axis": null},
"text": {"field": "month"}
}
},
{
"data": {"values": [
{"slot": "U23-03", "level": "year", "label": "2023"},
{"slot": "R22-07", "level": "year", "label": "2022"},
{"slot": "R23-03", "level": "year", "label": "2023"},
{"slot": "U22-10", "level": "area", "label": "Urban area"}
]},
"mark": {"type": "text", "fontSize": 20, "color": "#595959", "font": "Lato", "dy": 7},
"encoding": {
"x": {"field": "slot", "type": "ordinal", "scale": {"type": "band", "domain": ["U22-01","U22-02","U22-03","U22-04","U22-05","U22-06","U22-07","U22-08","U22-09","U22-10","U22-11","U22-12","U-gap1","U23-01","U23-02","U23-03","U23-04","U23-05","U-gap2","R22-01","R22-02","R22-03","R22-04","R22-05","R22-06","R22-07","R22-08","R22-09","R22-10","R22-11","R22-12","R-gap1","R23-01","R23-02","R23-03","R23-04","R23-05"], "paddingInner": 0, "paddingOuter": 0}, "axis": null},
"y": {"field": "level", "type": "ordinal", "scale": {"type": "band", "domain": ["month", "year", "area"], "range": [264, 404], "paddingInner": 0, "paddingOuter": 0}, "axis": null},
"text": {"field": "label"}
}
},
{
"data": {"values": [
{"slot": "U22-07", "level": "year", "label": "2022"},
{"slot": "R22-10", "level": "area", "label": "Rural area"}
]},
"mark": {"type": "text", "fontSize": 20, "color": "#595959", "font": "Lato", "dy": 7},
"encoding": {
"x": {"field": "slot", "type": "ordinal", "bandPosition": 0, "scale": {"type": "band", "domain": ["U22-01","U22-02","U22-03","U22-04","U22-05","U22-06","U22-07","U22-08","U22-09","U22-10","U22-11","U22-12","U-gap1","U23-01","U23-02","U23-03","U23-04","U23-05","U-gap2","R22-01","R22-02","R22-03","R22-04","R22-05","R22-06","R22-07","R22-08","R22-09","R22-10","R22-11","R22-12","R-gap1","R23-01","R23-02","R23-03","R23-04","R23-05"], "paddingInner": 0, "paddingOuter": 0}, "axis": null},
"y": {"field": "level", "type": "ordinal", "scale": {"type": "band", "domain": ["month", "year", "area"], "range": [264, 404], "paddingInner": 0, "paddingOuter": 0}, "axis": null},
"text": {"field": "label"}
}
}
],
"resolve": {"scale": {"y": "independent"}}
}
